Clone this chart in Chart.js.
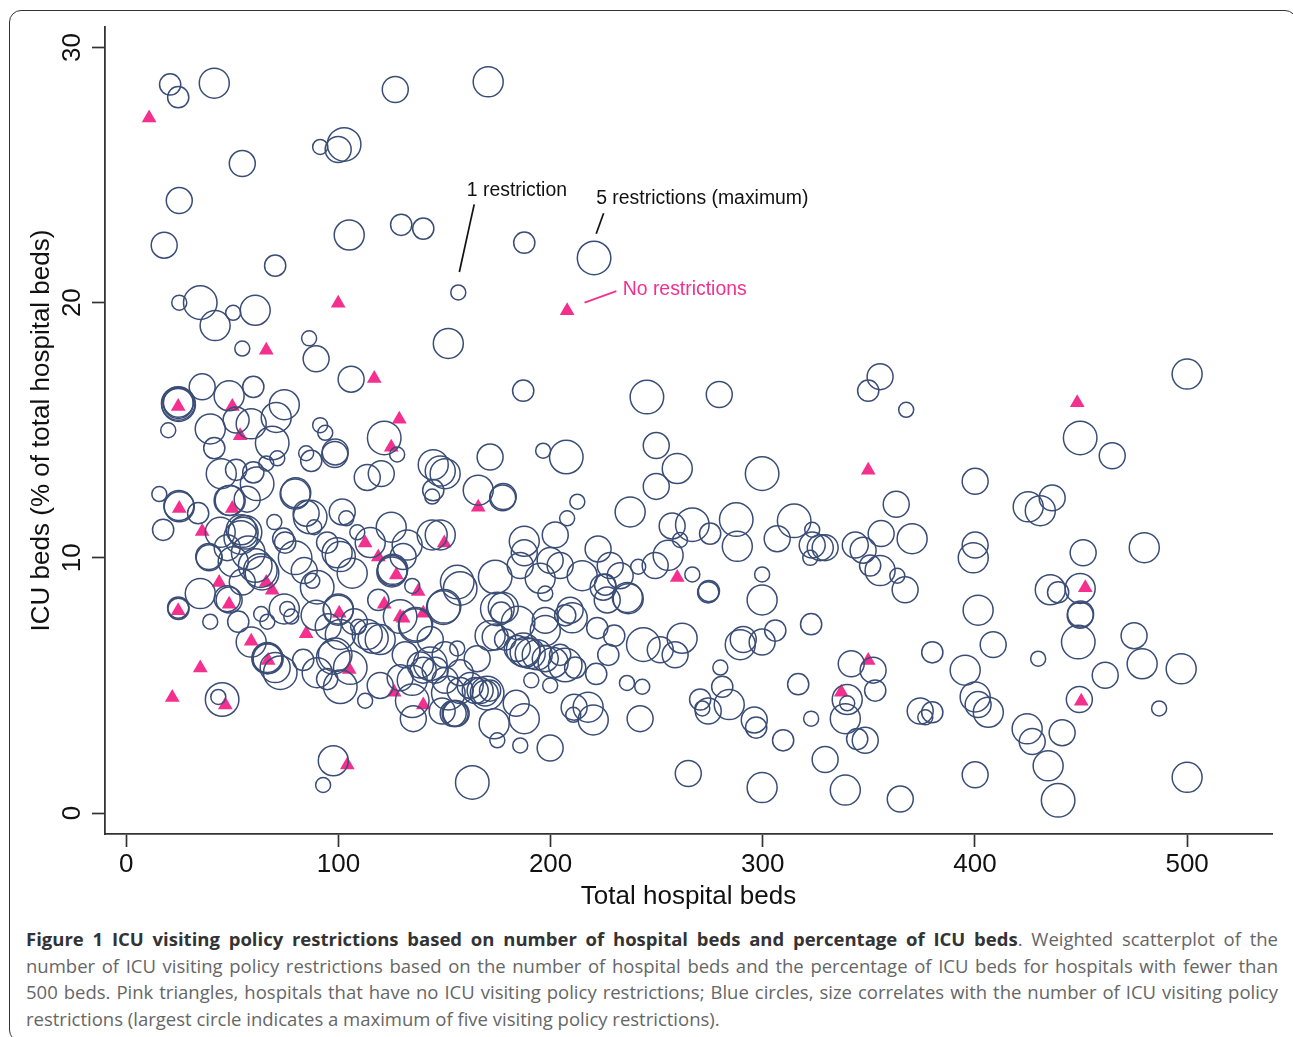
<!DOCTYPE html>
<html><head><meta charset="utf-8">
<script src="https://cdn.jsdelivr.net/npm/chart.js@4"></script>
<style>
html,body{margin:0;padding:0;background:#fff;width:1293px;height:1037px;overflow:hidden}
#frame{position:absolute;left:0;top:0;width:1293px;height:1037px;overflow:hidden}
#card{position:absolute;left:9px;top:10px;width:1288px;height:1032px;box-sizing:border-box;border:1.6px solid #333;border-radius:12px}
#cv{position:absolute;left:0;top:0}
.cap{position:absolute;left:26px;width:1252px;font:18.5px/26px "Open Sans",sans-serif;color:#666;white-space:nowrap;text-align:justify;text-align-last:justify}
.cap b{color:#333;font-weight:700}
.cap.last{text-align-last:left}
</style></head><body>
<div id="frame"><div id="card"></div></div>
<canvas id="cv" width="1293" height="912"></canvas>
<div class="cap" style="top:926px"><b>Figure 1 ICU visiting policy restrictions based on number of hospital beds and percentage of ICU beds</b>. Weighted scatterplot of the</div>
<div class="cap" style="top:953px">number of ICU visiting policy restrictions based on the number of hospital beds and the percentage of ICU beds for hospitals with fewer than</div>
<div class="cap" style="top:979px">500 beds. Pink triangles, hospitals that have no ICU visiting policy restrictions; Blue circles, size correlates with the number of ICU visiting policy</div>
<div class="cap last" style="top:1006px">restrictions (largest circle indicates a maximum of five visiting policy restrictions).</div>
<script>
const xTickValues=[0,100,200,300,400,500];
const yTickValues=[0,10,20,30];
const xAxisTitle="Total hospital beds";
const yAxisTitle="ICU beds (% of total hospital beds)";

const noRestrictions=[[10.8,27.23],[99.9,19.98],[207.8,19.68],[66,18.13],[116.9,17.03],[24.5,15.93],[50,15.93],[128.7,15.43],[53.7,14.78],[124.9,14.33],[165.9,11.98],[25,11.93],[50,11.93],[35.8,11.03],[112.6,10.58],[149.9,10.58],[118.8,10.03],[127.3,9.33],[43.8,9.03],[66,9.03],[68.8,8.73],[48.5,8.18],[121.6,8.18],[24.5,7.93],[100.4,7.83],[137.6,8.68],[140,7.83],[129.1,7.68],[130.5,7.63],[84.8,7.03],[58.9,6.73],[66.9,5.98],[34.9,5.68],[105.1,5.63],[21.7,4.53],[126.3,4.73],[46.7,4.23],[140,4.23],[104.2,1.88],[259.7,9.23],[349.7,5.98],[337,4.73],[349.7,13.43],[448.2,16.08],[452,8.83],[450.1,4.38]];

const oneRestriction=[[156.5,20.4],[25,20],[50.4,19.6],[54.7,18.2],[86.2,18.6],[19.8,15],[91.4,15.2],[93.8,14.9],[84.8,14.1],[71.2,13.9],[66,13.7],[15.6,12.5],[127.7,14.05],[91.4,26.1],[69.8,11.4],[103.7,11.55],[88.6,11.2],[108.9,11],[134.8,8.9],[39.6,7.5],[63.6,7.8],[66.5,7.5],[75.9,8],[77.8,7.7],[87.7,9.1],[112.6,4.4],[109.3,7.3],[92.8,1.1],[174.9,2.85],[185.7,2.65],[196.5,14.2],[212.6,12.2],[207.8,11.55],[261,10.7],[323.3,11.1],[322.4,10],[299.7,9.35],[241.3,9.65],[266.8,9.35],[363.4,9.3],[367.6,15.8],[429.8,6.05],[280,5.7],[271.5,4.1],[322.8,3.7],[376.6,3.75],[486.8,4.1],[236,5.1],[243.2,4.95],[210.7,3.85],[190.9,5.2],[199.8,5],[197.5,8.6],[339.8,4.3],[144.2,12.4],[43.4,4.55],[156,6.45]];

const twoRestrictions=[[20.7,28.55],[24.5,28.05],[129.6,23.05],[140,22.9],[187.6,22.35],[70.2,21.45],[59.9,16.7],[41.5,14.3],[87.2,13.8],[51.8,13.45],[59.9,13.35],[33.9,11.75],[17.4,11.1],[74,10.75],[74.9,10.6],[94.7,10.6],[24.5,8.05],[24.6,8],[52.8,7.5],[187.1,16.55],[275.2,10.95],[225.7,8.95],[274.3,8.65],[274.6,8.7],[305.9,7.15],[322.8,7.4],[350.6,9.7],[379.9,6.3],[353,4.8],[316.7,5.05],[280.9,4.95],[270.5,4.45],[296.9,3.35],[309.6,2.85],[344.5,2.9],[379.9,3.95],[221.5,5.45],[227.2,6.2],[222,7.25],[230,6.95],[211.6,5.7],[204.5,6.2],[178.6,6.8],[171.5,4.8],[94.7,5.25],[83.4,6],[118.8,8.35],[349.7,16.55],[439.2,8.65],[206.9,7.75],[176.7,7.85],[144.7,12.65]];

const threeRestrictions=[[126.8,28.35],[99.9,26],[54.7,25.45],[25,24],[17.9,22.25],[89.5,17.8],[106,17],[35.8,16.7],[51.8,15.4],[98.5,14.15],[98.3,14.05],[113.6,13.15],[120.2,13.3],[101.8,11.8],[84.8,11.75],[57,12.3],[39.1,10],[38.9,10.05],[47.6,10.4],[54.7,9.05],[48.5,8.35],[47.6,8.4],[83.9,9.5],[95.2,7.3],[107.5,7.5],[119.7,5],[129.1,5.3],[135.3,3.7],[155,3.9],[154.1,3.9],[155.5,3.9],[148.9,4],[140,5.6],[165.4,6.05],[279.5,16.4],[249.8,14.4],[249.8,12.8],[171.5,13.95],[177.7,12.4],[177.4,12.35],[202.2,10.9],[222.4,10.35],[257.3,11.25],[187.6,10.2],[306.8,10.75],[323.3,10.5],[327.1,10.4],[329.4,10.4],[249.3,9.7],[232.8,9.3],[228.1,9.7],[199.8,9.9],[204.5,9.7],[185.7,9.7],[224.8,8.85],[226.7,8.35],[251.7,6.4],[258.7,6.2],[290.8,6.8],[299.7,6.7],[343.6,10.5],[347.3,10.3],[367.1,8.75],[355.8,10.95],[362.9,12.1],[355.3,17.1],[400.1,13],[464.7,14],[436.4,12.35],[400.1,10.5],[451,10.2],[449.6,7.75],[449.8,7.8],[408.6,6.6],[475,6.95],[461.4,5.4],[341.7,5.85],[352,5.6],[329.4,2.1],[348.3,2.85],[364.8,0.55],[374.2,4],[401.5,4.25],[400.1,1.5],[427,2.8],[441.1,3.15],[449.2,4.45],[242.2,3.7],[264.9,1.55],[296,3.65],[274.3,4],[211.1,4.15],[199.8,2.55],[183.8,4.3],[184.3,6.45],[197.5,6.05],[209.2,7.95],[197.5,7.55],[173.9,6.9],[166.8,4.8],[130.5,10.05],[150.3,6.2],[157.4,5.5],[162.1,5],[164.5,4.8],[169.2,4.7],[157.4,4.8],[150.3,5.2],[145.6,5.6],[138.6,5.8],[131.5,6.2],[143.3,6.8]];

const fourRestrictions=[[41.5,28.6],[170.6,28.65],[105.1,22.65],[41.9,19.1],[60.8,19.7],[151.8,18.4],[48.5,16.35],[24.5,16.05],[24.6,16.1],[74.5,16],[70.7,15.5],[58.9,15.25],[39.6,15.05],[44.8,13.3],[25,12],[24.8,12.05],[48.5,12.25],[49,12.25],[79.6,12.5],[79.9,12.55],[44.3,11],[54.2,11.1],[55.1,11],[50.4,9.85],[99.4,10.2],[100.9,10.05],[106.5,9.4],[115,10.6],[124.9,11.2],[132.4,10.5],[125.4,9.5],[125.6,9.55],[125.2,9.45],[34.9,8.6],[74.5,8],[89.5,7.75],[58.9,6.7],[90,5.5],[100.9,7],[99.9,7.95],[100,8],[113.6,7],[116.4,6.85],[119.7,6.8],[134.8,5.2],[66.5,6.1],[66.9,6.05],[66.3,6.05],[70.2,5.7],[144.7,13.65],[150.3,13.3],[148,13.4],[144.2,10.9],[148,10.9],[165.9,12.65],[237.5,11.8],[259.7,13.5],[187.6,10.65],[255.4,10.1],[288,10.45],[214.9,9.3],[236.6,8.4],[236.2,8.45],[262,6.85],[289.4,6.6],[299.7,8.35],[355.3,9.5],[370.4,10.75],[500,17.2],[430.8,11.85],[425.1,12],[479.8,10.4],[399.2,10],[401.5,7.95],[435.5,8.75],[449.6,8.8],[395.4,5.6],[478.8,5.85],[497.2,5.65],[338.9,3.7],[339.8,4.45],[338.9,0.9],[299.7,1],[284.2,4.25],[400.1,4.55],[406.3,3.95],[424.6,3.3],[434.5,1.85],[500,1.4],[220.1,3.65],[217.7,4.15],[187.6,3.7],[197.5,7.15],[210.2,7.65],[177.7,8.05],[171.5,6.95],[188,6.3],[190.4,6.25],[195.1,9.2],[97.6,2.05],[173.4,3.5],[193.7,6.2],[201.2,5.9]];

const fiveRestrictions=[[102.7,26.2],[220.5,21.75],[34.9,20],[24.5,16.05],[24.7,16],[68.8,14.5],[121.6,14.7],[245.4,16.3],[207.4,13.95],[299.7,13.3],[449.6,14.7],[314.8,11.45],[287.5,11.5],[266.8,11.3],[61.7,12.9],[56,11],[54,10.8],[86.7,11.6],[79.6,10],[90,8.85],[57.5,10.2],[60.8,9.7],[63.2,9.5],[64,9.4],[129.1,7.7],[136.2,7.35],[136.5,7.4],[97.6,6.1],[98.5,6.2],[100.9,4.95],[105.6,5.7],[72.6,5.5],[173.9,9.25],[184.7,7.45],[143.3,5.85],[151.8,4.7],[170.1,4.7],[156,9.05],[157.4,8.8],[149.4,8.05],[149.8,8.1],[174.9,8],[448.7,6.7],[439.2,0.5],[163.1,1.2],[134.8,4.4],[243.7,6.6],[45.2,4.45],[187.1,6.4],[206.9,5.8]];

const annotationTexts=["1 restriction","5 restrictions (maximum)","No restrictions"];
const annotationAnchors=[[160.5,24.37],[221.5,24.07],[234,20.5]];
const leaderLines=[[164,23.85,157,21.2],[225,23.5,221.5,22.7],[231,20.45,216,20.0]];

const NAVY="#3a4d76",PINK="#f42f8e",INK="#111",AXIS="#333";
const BASE_R=7.5;
function circles(label,data,n){return {label,data,pointStyle:"circle",pointRadius:BASE_R*Math.sqrt(n),pointHoverRadius:BASE_R*Math.sqrt(n),pointBorderColor:NAVY,pointBackgroundColor:"transparent",pointBorderWidth:1.5,showLine:false};}

const annot={id:"annot",afterDatasetsDraw(c){
  const {ctx,scales:{x,y}}=c;ctx.save();
  const cols=[INK,INK,PINK];
  leaderLines.forEach((l,i)=>{ctx.beginPath();ctx.strokeStyle=cols[i];ctx.lineWidth=1.7;ctx.moveTo(x.getPixelForValue(l[0]),y.getPixelForValue(l[1]));ctx.lineTo(x.getPixelForValue(l[2]),y.getPixelForValue(l[3]));ctx.stroke();});
  ctx.font='19.4px "Liberation Sans"';ctx.textAlign="left";ctx.textBaseline="middle";
  annotationTexts.forEach((t,i)=>{ctx.fillStyle=cols[i];ctx.fillText(t,x.getPixelForValue(annotationAnchors[i][0]),y.getPixelForValue(annotationAnchors[i][1]));});
  ctx.restore();
}};
const axisFont={family:"Liberation Sans",size:26};
const axisGrid={display:true,drawOnChartArea:false,drawTicks:true,tickLength:13,tickColor:AXIS,tickWidth:1.7};

new Chart(document.getElementById("cv"),{
  type:"scatter",
  data:{datasets:[
    circles("1 restriction",oneRestriction,1),
    circles("2 restrictions",twoRestrictions,2),
    circles("3 restrictions",threeRestrictions,3),
    circles("4 restrictions",fourRestrictions,4),
    circles("5 restrictions",fiveRestrictions,5),
    {label:"No restrictions",data:noRestrictions,pointStyle:"triangle",pointRadius:8.5,pointHoverRadius:8.5,pointBackgroundColor:PINK,pointBorderColor:PINK,pointBorderWidth:0,showLine:false}
  ]},
  options:{
    responsive:false,animation:false,devicePixelRatio:1,
    layout:{padding:{left:26,top:27,right:21,bottom:0}},
    plugins:{legend:{display:false},tooltip:{enabled:false}},
    events:[],
    clip:false,
    scales:{
      x:{type:"linear",min:-10,max:540,
        afterBuildTicks(s){s.ticks=xTickValues.map(v=>({value:v}));},
        afterFit(s){s.height=78;},
        grid:axisGrid,
        border:{display:true,color:AXIS,width:1.8},
        ticks:{color:INK,font:axisFont,padding:2,maxRotation:0,autoSkip:false},
        title:{display:true,text:xAxisTitle,color:INK,font:axisFont,padding:0}},
      y:{type:"linear",min:-0.82,max:30.8,
        afterBuildTicks(s){s.ticks=yTickValues.map(v=>({value:v}));},
        afterFit(s){s.width=79;},
        grid:axisGrid,
        border:{display:true,color:AXIS,width:1.8},
        ticks:{color:INK,font:axisFont,padding:5,minRotation:90,maxRotation:90,crossAlign:"center",autoSkip:false},
        title:{display:true,text:yAxisTitle,color:INK,font:axisFont,padding:0}}
    }
  },
  plugins:[annot]
});
</script>
</body></html>
